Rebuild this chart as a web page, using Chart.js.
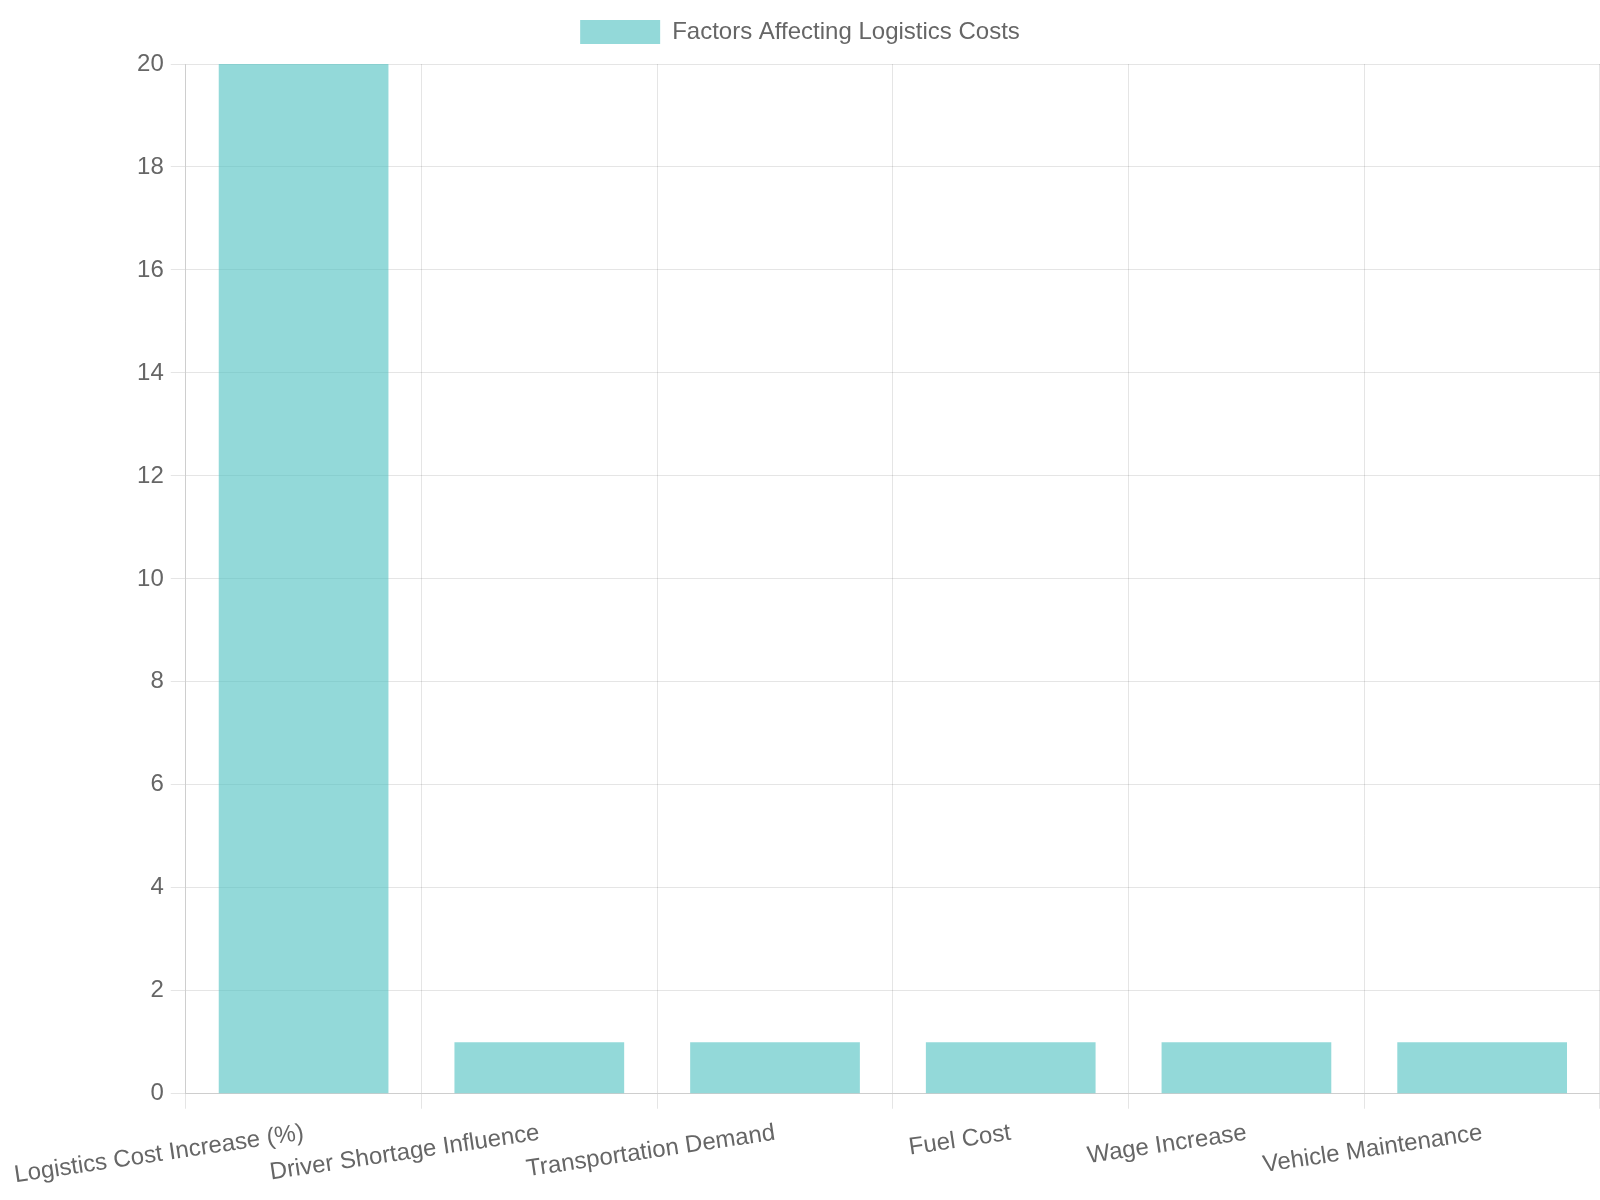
<!DOCTYPE html>
<html>
<head>
<meta charset="utf-8">
<script src="https://cdn.jsdelivr.net/npm/chart.js@4.4.1/dist/chart.umd.min.js"></script>
<style>
html,body{margin:0;padding:0;background:#fff;}
#wrap{width:1600px;height:1200px;}
</style>
</head>
<body>
<div id="wrap"><canvas id="c"></canvas></div>
<script>
const categories = ["Logistics Cost Increase (%)", "Driver Shortage Influence", "Transportation Demand", "Fuel Cost", "Wage Increase", "Vehicle Maintenance"];
const seriesValues = [20, 1, 1, 1, 1, 1];
const seriesLabel = "Factors Affecting Logistics Costs";

Chart.defaults.font.family = "'Liberation Sans', Arial, sans-serif";
Chart.defaults.font.size = 24;
Chart.defaults.color = "#666";

const legendSpacer = {
  id: "legendSpacer",
  beforeInit(chart) {
    const legend = chart.legend;
    if (!legend) return;
    const origFit = legend.fit;
    legend.fit = function () {
      origFit.call(this);
      this.height += 10;
    };
  }
};

new Chart(document.getElementById("c"), {
  type: "bar",
  data: {
    labels: categories,
    datasets: [{
      label: seriesLabel,
      data: seriesValues,
      backgroundColor: "rgba(75,192,192,0.6)",
      borderColor: "rgba(75,192,192,0.6)",
      borderWidth: 0
    }]
  },
  plugins: [legendSpacer],
  options: {
    responsive: true,
    maintainAspectRatio: false,
    animation: false,
    layout: { padding: 0 },
    plugins: { legend: { display: true, labels: { padding: 20, boxWidth: 80 } } },
    scales: {
      y: { beginAtZero: true, grid: { tickLength: 15 }, ticks: { padding: 7 } },
      x: { grid: { tickLength: 15 }, ticks: { padding: 10 } }
    }
  }
});
</script>
</body>
</html>
